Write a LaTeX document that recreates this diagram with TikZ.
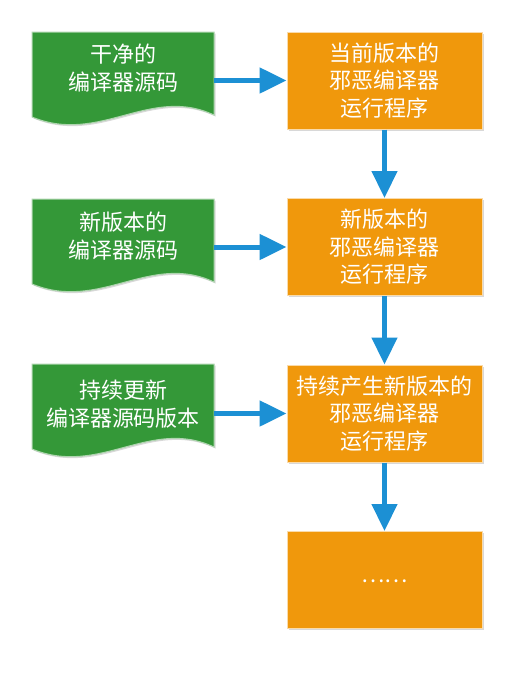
\documentclass[tikz,border=0pt]{standalone}
\usepackage{fontspec}
\newfontfamily\cjk{Noto Sans CJK SC}
\usetikzlibrary{arrows.meta,shadows}
\definecolor{docgreen}{RGB}{52,152,56}
\definecolor{boxorange}{RGB}{240,152,12}
\definecolor{arrowblue}{RGB}{28,144,212}
\begin{document}
\begin{tikzpicture}[x=1pt,y=-1pt,
  txt/.style={font=\cjk\fontsize{22}{27.5}\selectfont, text=white, align=center, inner sep=0pt},
  shade1/.style={drop shadow={opacity=0.3, shadow xshift=1.5pt, shadow yshift=-1.5pt}},
  procbox/.style={txt, draw=white!65!boxorange, line width=1pt, fill=boxorange,
    minimum width=195pt, minimum height=97pt, shade1},
  doctext/.style={txt, minimum width=182pt},
  docpic/.pic={\path[fill=docgreen, draw=white!60!docgreen, line width=1pt, shade1]
     (-91,-36) -- (91,-36) -- (91,47) .. controls (27,17) and (-23,77) .. (-91,49) -- cycle;},
  harr/.style={draw=arrowblue, line width=5pt, -{Triangle[length=27pt,width=25pt]}},
  varr/.style={draw=arrowblue, line width=4.5pt, -{Triangle[length=27pt,width=25pt]}}
]
\fill[white] (0,0) rectangle (515,681);
\useasboundingbox (0,0) rectangle (515,681);

% green source documents
\pic at (123,68) {docpic};
\node[doctext] (g1) at (123,68) {干净的\\编译器源码};
\pic at (123,235) {docpic};
\node[doctext] (g2) at (123,236) {新版本的\\编译器源码};
\pic at (123,400) {docpic};
\node[doctext] (g3) at (123,404) {持续更新\\编译器源码版本};

% orange process boxes
\node[procbox] (o1) at (384.5,80.5) {当前版本的\\邪恶编译器\\运行程序};
\node[procbox] (o2) at (384.5,247) {新版本的\\邪恶编译器\\运行程序};
\node[procbox] (o3) at (384.5,413.5) {持续产生新版本的\\邪恶编译器\\运行程序};
\node[procbox] (o4) at (384.5,580) {\raisebox{-5pt}{……}};

% arrows
\draw[harr] (g1.east |- o1.west) -- (o1.west);
\draw[harr] (g2.east |- o2.west) -- (o2.west);
\draw[harr] (g3.east |- o3.west) -- (o3.west);
\draw[varr] (o1.south) -- (o2.north);
\draw[varr] (o2.south) -- (o3.north);
\draw[varr] (o3.south) -- (o4.north);
\end{tikzpicture}
\end{document}
